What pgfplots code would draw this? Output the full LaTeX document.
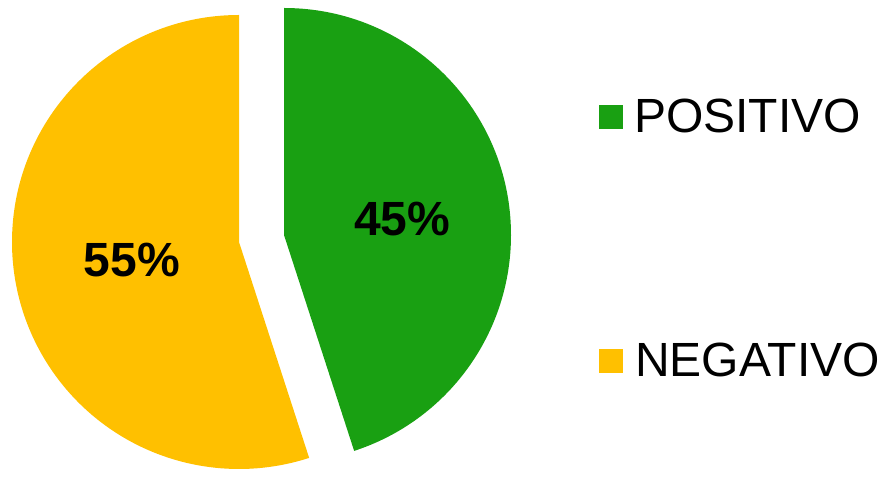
\documentclass[border=0pt]{standalone}
\usepackage{pgfplots}
\pgfplotsset{compat=1.18}
\usepackage{pgfplotstable}
\usepackage{fontspec}
\setmainfont{Liberation Sans}
\definecolor{pgreen}{RGB}{25,160,18}
\definecolor{pyellow}{RGB}{255,192,0}
\pgfplotstableread{
label value
POSITIVO 45
NEGATIVO 55
}\piedata
\begin{document}
\begin{tikzpicture}
\pgfplotstablegetelem{0}{value}\of\piedata \let\vpos\pgfplotsretval
\pgfplotstablegetelem{1}{value}\of\piedata \let\vneg\pgfplotsretval
\begin{axis}[width=889pt,height=469pt,scale only axis,
  xmin=0,xmax=889,ymin=0,ymax=469,hide axis,clip=false]
\path (axis cs:0,0) rectangle (axis cs:889,469);
% POSITIVO slice (exploded)
\pgfmathsetmacro{\aend}{90-3.6*\vpos}
\fill[pgreen] (axis cs:284,234) -- ++(90:227pt)
  arc[start angle=90, end angle=\aend, radius=227pt] -- cycle;
% NEGATIVO slice
\pgfmathsetmacro{\bend}{90+3.6*\vneg}
\fill[pyellow] (axis cs:239,227) -- ++(90:227pt)
  arc[start angle=90, end angle=\bend, radius=227pt] -- cycle;
% value labels
\node[anchor=base west,inner sep=0pt,font=\fontsize{48}{56}\selectfont\bfseries]
  at (axis cs:354,233) {\vpos\%};
\node[anchor=base west,inner sep=0pt,font=\fontsize{48}{56}\selectfont\bfseries]
  at (axis cs:83.5,192.3) {\vneg\%};
% legend
\fill[pgreen] (axis cs:599,340.3) rectangle (axis cs:623,364.3);
\node[anchor=base west,inner sep=0pt,font=\fontsize{48}{56}\selectfont]
  at (axis cs:634,336.3) {POSITIVO};
\fill[pyellow] (axis cs:599,96.3) rectangle (axis cs:623,120.3);
\node[anchor=base west,inner sep=0pt,font=\fontsize{48}{56}\selectfont]
  at (axis cs:635,92.3) {NEGATIVO};
\end{axis}
\end{tikzpicture}
\end{document}
